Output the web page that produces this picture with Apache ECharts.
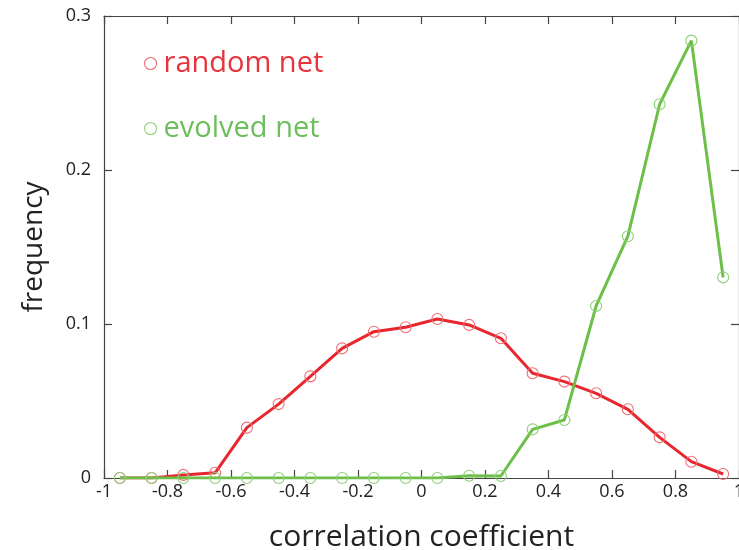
<!DOCTYPE html>
<html>
<head>
<meta charset="utf-8">
<script src="https://cdn.jsdelivr.net/npm/echarts@6/dist/echarts.min.js"></script>
<style>
  html, body { margin: 0; padding: 0; background: #fff; }
  #chart { width: 739px; height: 550px; }
</style>
</head>
<body>
<div id="chart"></div>
<script>
// Bin centres of the correlation-coefficient histogram
const binCenters = [-0.95, -0.85, -0.75, -0.65, -0.55, -0.45, -0.35, -0.25, -0.15, -0.05,
                    0.05, 0.15, 0.25, 0.35, 0.45, 0.55, 0.65, 0.75, 0.85, 0.95];

// Frequency per bin
const randomNet = [0, 0, 0.002, 0.0034, 0.0327, 0.048, 0.066, 0.0842, 0.095, 0.0979,
                   0.1032, 0.0994, 0.0907, 0.068, 0.0626, 0.055, 0.0446, 0.0264, 0.0106, 0.0026];
const evolvedNet = [0, 0, 0, 0, 0, 0, 0, 0, 0, 0,
                    0, 0.0015, 0.0013, 0.0316, 0.0377, 0.1117, 0.157, 0.2427, 0.284, 0.1303];

const seriesNames = ['random net', 'evolved net'];
const xLabel = 'correlation coefficient';
const yLabel = 'frequency';

const FONT = '"Open Sans", "Noto Sans", sans-serif';
const RED = '#e8262d';
const RED_MARK = '#ee6e74';
const GREEN = '#6cbf47';
const GREEN_MARK = '#8fcf78';
const AXIS = '#444';

function pairs(xs, ys) { return xs.map((x, i) => [x, ys[i]]); }

function fmt(v) {
  const r = Math.round(v * 10) / 10;
  return r === 0 ? '0' : String(r);
}

function frame() {
  return {
    axisLine: { show: true, onZero: false, lineStyle: { color: AXIS, width: 1.2 } },
    axisTick: { show: true, inside: true, length: 8, lineStyle: { color: AXIS, width: 1.2 } },
    splitLine: { show: false }
  };
}

const hollow = (c) => ({ color: 'rgba(255,255,255,0)', borderColor: c, borderWidth: 1.1 });

const chart = echarts.init(document.getElementById('chart'));
chart.setOption({
  animation: false,
  backgroundColor: '#fff',
  grid: { left: 104, top: 16, right: 0, bottom: 72, containLabel: false, outerBoundsMode: 'none' },
  legend: {
    orient: 'vertical',
    left: 139,
    top: 44,
    itemGap: 36,
    itemWidth: 12,
    itemHeight: 12,
    icon: 'circle',
    textStyle: { fontFamily: FONT, fontSize: 29, padding: [0, 0, 0, 2] },
    data: [
      { name: seriesNames[0], itemStyle: hollow(RED_MARK), textStyle: { color: '#e8333c' } },
      { name: seriesNames[1], itemStyle: hollow(GREEN_MARK), textStyle: { color: '#6cbf5a' } }
    ]
  },
  xAxis: [
    Object.assign({
      type: 'value', min: -1, max: 1, interval: 0.2, position: 'bottom',
      name: xLabel, nameLocation: 'middle', nameGap: 44,
      nameTextStyle: { fontFamily: FONT, fontSize: 30, color: '#222' },
      axisLabel: { fontFamily: FONT, fontSize: 18, color: '#222', margin: 5, formatter: fmt }
    }, frame()),
    Object.assign({
      type: 'value', min: -1, max: 1, interval: 0.2, position: 'top',
      axisLabel: { show: false }
    }, frame())
  ],
  yAxis: [
    Object.assign({
      type: 'value', min: 0, max: 0.3, interval: 0.1, position: 'left',
      name: yLabel, nameLocation: 'middle', nameGap: 56,
      nameTextStyle: { fontFamily: FONT, fontSize: 28, color: '#222' },
      axisLabel: { fontFamily: FONT, fontSize: 18, color: '#222', margin: 13, formatter: fmt }
    }, frame()),
    Object.assign({
      type: 'value', min: 0, max: 0.3, interval: 0.1, position: 'right',
      axisLabel: { show: false }
    }, frame())
  ],
  series: [
    {
      name: seriesNames[0], type: 'line',
      data: pairs(binCenters, randomNet),
      color: RED,
      lineStyle: { color: RED, width: 3 },
      symbol: 'circle', symbolSize: 11,
      itemStyle: hollow(RED_MARK),
      z: 2
    },
    {
      name: seriesNames[1], type: 'line',
      data: pairs(binCenters, evolvedNet),
      color: GREEN,
      lineStyle: { color: GREEN, width: 3 },
      symbol: 'circle', symbolSize: 11,
      itemStyle: hollow(GREEN_MARK),
      z: 3
    }
  ]
});
</script>
</body>
</html>
